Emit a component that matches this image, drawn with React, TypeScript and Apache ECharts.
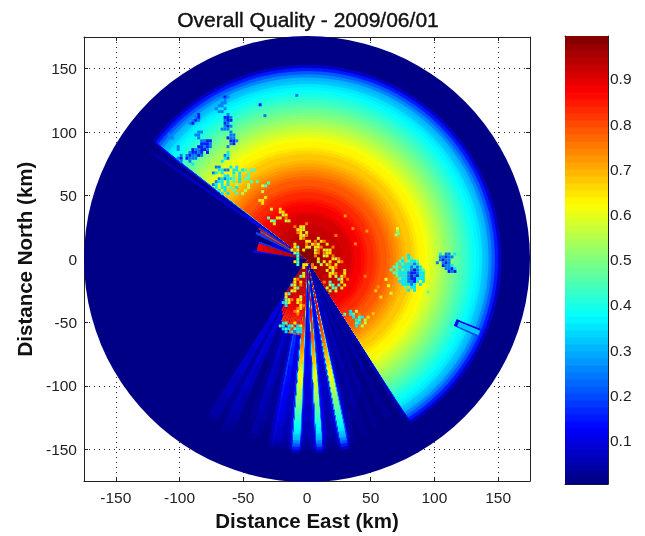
import React, { useEffect, useRef } from "react";
import * as echarts from "echarts";

const titleText = "Overall Quality - 2009/06/01";
const axisTicks = [-150, -100, -50, 0, 50, 100, 150];
const barTicks = [0.1, 0.2, 0.3, 0.4, 0.5, 0.6, 0.7, 0.8, 0.9];

// quality along a clear radial, one value per 2.5 km ring
const ringStep = 2.5;
const radialQuality = [
  0.995, 0.99, 0.98, 0.97, 0.955, 0.945, 0.94, 0.935, 0.93, 0.925, 0.92, 0.915, 0.91, 0.905, 0.895, 0.885,
  0.875, 0.865, 0.855, 0.84, 0.83, 0.815, 0.8, 0.79, 0.78, 0.765, 0.75, 0.735, 0.72, 0.705, 0.695, 0.68,
  0.67, 0.655, 0.645, 0.635, 0.625, 0.61, 0.595, 0.58, 0.565, 0.555, 0.54, 0.525, 0.51, 0.495, 0.48, 0.465,
  0.45, 0.435, 0.42, 0.405, 0.39, 0.37, 0.35, 0.325, 0.3, 0.26, 0.21, 0.15, 0.07,
];

// azimuth start (deg clockwise from north), far gain, near-field limit (km), near-field gain
const beamTable = [
  [147.5, 0.4, 0, 0], [148, 0.12, 0, 0], [149, 0.03, 0, 0], [152, 0.06, 0, 0], [154, 0.03, 0, 0],
  [157, 0.07, 0, 0], [158.5, 0.04, 0, 0], [161, 0.08, 0, 0], [163, 0.05, 0, 0], [165, 0.1, 0, 0],
  [166, 0.16, 0, 0], [166.8, 0.3, 0, 0], [167.2, 0.6, 0, 0], [167.6, 1, 0, 0], [169.8, 0.6, 0, 0],
  [170.2, 0.3, 0, 0], [170.8, 0.15, 0, 0], [172, 0.12, 0, 0], [173.5, 0.2, 0, 0], [174.4, 0.3, 0, 0],
  [175, 0.55, 0, 0], [175.3, 1, 0, 0], [177.2, 0.6, 0, 0], [177.6, 0.3, 0, 0], [178.2, 0.2, 0, 0],
  [179, 0.16, 0, 0], [180.8, 0.2, 0, 0], [181.4, 0.3, 0, 0], [181.9, 0.6, 60, 0.6], [182.2, 1, 60, 1],
  [184.6, 0.6, 60, 1], [185, 0.3, 60, 1], [185.6, 0.15, 60, 1], [187, 0.16, 61, 1],
  [188, 0.22, 61, 1], [190, 0.28, 61, 1], [191, 0.15, 60, 1], [192, 0.05, 60, 1], [194.5, 0.09, 59, 1],
  [196, 0.12, 57, 1], [198, 0.05, 55, 1], [200, 0.03, 53, 1], [203, 0.1, 49, 1], [205, 0.13, 45, 1],
  [207, 0.05, 42, 1], [209, 0.12, 38, 1], [211, 0.12, 33, 1], [212.5, 0, 0, 0], [277, 0, 43, 0.15],
  [279.5, 0, 41, 1], [288, 0, 42, 0.2], [290, 0, 30, 0.1], [296, 0, 45, 0.22], [298.5, 0, 44, 1],
  [300, 0, 44, 0.3], [301.5, 0, 45, 1], [303.2, 0.03, 45, 0.25], [304, 0.14, 45, 0.2], [305, 0.03, 60, 0.15],
  [306.4, 0.12, 0, 0], [307.2, 0.4, 0, 0], [307.7, 1, 0, 0],
];
const beamTableEnd = 507.5;

// polar patches: az start, az end, range start, range end, quality
const polarPatches = [
  [111.9, 114.4, 126.5, 129.5, 0.12],
  [111.9, 112.5, 127, 147, 0.1],
  [112.5, 114, 129, 147, 0.32],
  [114, 114.5, 129, 147, 0.2],
];

// clutter maps, read cell by cell: one character per 2.3 km, digit d is quality d/10 + 0.05
const cellKm = 2.3;
const hotOrigin = [-44, 60];
const hotRows = [
  "......4",
  "....54",
  "",
  "....5",
  "",
  ".....6",
  "...66",
  "....6",
  "",
  ".......5..6",
  "..........66",
  "...........56",
  "......4..65.7",
  ".......54...56",
  "........6..........7",
  "...............7.66",
  "................665",
  "................76.6",
  ".................657.........7",
  ".................67....6",
  "...................66.7.67",
  "...............6...7.675..6",
  "...............64..65.667...7",
  "..............676.6...57.656",
  "...............54.....67.766",
  "................4.....7..56.7",
  "................4......6....657",
  "...............64......5.6.6..67",
  "................4.66.7..5.67.6",
  "..................6..76....667",
  "...................45.....6.5...6",
  "..................57.......667..6",
  ".................46........6.5.67......7",
  "...............67.....6.......45.7",
  "..............56.6.......7.4...6",
  "..............46.7.........54.4.6",
  "...............64.........5.44.6",
  "..............56..........45.6",
  "............64",
  "...........46....5",
  "............457.66",
  "...........346..67",
  "............3....676",
  "................76",
  "...............76.................3.5",
  "................7...............4.34.7",
  "...................................3.43.6",
  "....................................34.5",
  "...........34..6....................43.5",
  "..........43.34.35..................3.5",
  "...........343.4332",
  "............3.3233",
];
const nwOrigin = [-108, 130];
const nwRows = [
  "...................2",
  "..................212",
  "...................2",
  "..................22",
  ".................22",
  "................2..2",
  ".................22",
  "..........1.........2",
  ".........21........112",
  "........212........211",
  ".......21..........12",
  "...................212",
  "..................222",
  "..........22.........2",
  "2........22..........22",
  ".2........2.........122",
  "...........2211......112",
  "...........1112......21",
  "...2......11212.....2",
  "...2....122112",
  ".......21121.1......3",
  "....2.212212.......23",
  "...21.1222.........32",
  "....2..2..........3",
  "........3",
  "................22...3.3",
  ".................3322.33.34.44",
  "...............23.3...3.3..4",
  "...................33.4.3..4",
  ".................232334.3.44",
  "................233.3.4.3...4.4",
  "...............23.3.3..5...5",
  "................3.33.4.3...5",
  ".................3.3..4...5",
  "..................3.3..4.5",
];
const eastOrigin = [66, 3];
const eastRows = [
  "......3",
  "....4.34",
  "...43.4334",
  "..43433323",
  ".44.3332323",
  "4.4343321234",
  ".44333211233",
  "..4333212133",
  "...433211333",
  "...3332213.3",
  "....33323.3",
  ".....4.33",
  "......3.3",
];
const farEastOrigin = [100, 4];
const farEastRows = [
  "..3.22.3",
  "..22122",
  "..2122",
  ".2.212",
  "...1223",
  "....2213",
  ".....121",
];

// isolated cells: east km, north km, quality
const scatterCells = [
  [71, 22, 0.5], [72, 20, 0.48], [70, 19, 0.56], [71, 24, 0.62], [62, -16, 0.58], [64, -21, 0.62], [66, -27, 0.58],
  [58, -30, 0.64], [30, 34, 0.72], [38, 12, 0.74], [47, 22, 0.72], [36, 24, 0.74], [54, -25, 0.68], [56, -22, 0.72],
  [52, -43, 0.68], [95, -26, 0.46], [-8, 129, 0.24], [-36.8, 121.6, 0.14], [-33, 113, 0.25],
];

const azOf = (x: number, y: number) => ((Math.atan2(x, y) * 180) / Math.PI + 360) % 360;
const cellVisible = (x: number, y: number) => {
  const az = azOf(x, y);
  const r = Math.hypot(x, y);
  if (az >= 307.7 || az <= 147.5) return true;
  if (az >= 183 && az <= 212) return r < 62;
  if (az > 147.5 && az < 183) return r < 7;
  if (az >= 279.5 && az <= 288) return r < 22;
  return r < 14;
};
const mapCells = (origin: number[], rows: string[]) => {
  const out: number[][] = [];
  rows.forEach((row, i) => {
    for (let j = 0; j < row.length; j++) {
      if (row[j] === ".") continue;
      const x = origin[0] + j * cellKm;
      const y = origin[1] - i * cellKm;
      if (cellVisible(x, y)) out.push([x, y, Number(row[j]) / 10 + 0.05]);
    }
  });
  return out;
};

const jet = (i: number) => {
  const v = (i + 0.5) / 64;
  const ch = (c: number) =>
    Math.round(255 * Math.max(0, Math.min(1, Math.min(4 * v - c + 0.5, -4 * v + c + 2.5))));
  return `rgb(${ch(2)},${ch(1)},${ch(0)})`;
};
const levelOf = (q: number) => Math.max(0, Math.min(63, Math.floor(((q - 0.004) / 0.991) * 64)));

const buildRings = () => {
  const rows: number[][] = [];
  beamTable.forEach((row, i) => {
    const next = i + 1 < beamTable.length ? beamTable[i + 1][0] : beamTableEnd;
    let last = 0;
    for (let k = radialQuality.length - 1; k >= 0; k--) {
      const r = (k + 1) * ringStep;
      const gain = r <= row[2] ? row[3] : row[1];
      const level = levelOf(radialQuality[k] * gain);
      if (level !== last) {
        rows.push([row[0], next, 0, r, level]);
        last = level;
      }
    }
  });
  return rows;
};

const sectorItem = (_p: any, api: any) => {
  const c = api.coord([0, 0]);
  const toPx = (km: number) => api.coord([km, 0])[0] - c[0];
  const a0 = ((api.value(0) - 90) * Math.PI) / 180;
  const a1 = ((api.value(1) - 90) * Math.PI) / 180;
  const col = jet(api.value(4));
  return {
    type: "sector",
    shape: { cx: c[0], cy: c[1], r0: toPx(api.value(2)), r: toPx(api.value(3)), startAngle: a0, endAngle: a1, clockwise: true },
    style: { fill: col },
  };
};
const cellItem = (_p: any, api: any) => {
  const p = api.coord([api.value(0), api.value(1)]);
  const s = api.size([cellKm, cellKm]);
  return {
    type: "rect",
    shape: { x: p[0] - s[0] / 2, y: p[1] - s[1] / 2, width: s[0], height: s[1] },
    style: { fill: jet(api.value(2)) },
  };
};
const discItem = (_p: any, api: any) => {
  const c = api.coord([0, 0]);
  const r = api.coord([api.value(0), 0])[0] - c[0];
  return { type: "circle", shape: { cx: c[0], cy: c[1], r }, style: { fill: jet(api.value(1)) } };
};
const barItem = (_p: any, api: any) => {
  const a = api.coord([0, api.value(0)]);
  const b = api.coord([1, api.value(1)]);
  return {
    type: "rect",
    shape: { x: a[0], y: b[1], width: b[0] - a[0], height: a[1] - b[1] + 0.6 },
    style: { fill: jet(api.value(2)) },
  };
};

const font = "Liberation Sans";
const frame = { show: true, onZero: false, lineStyle: { color: "#222", width: 1 } };
const ticksIn = (customValues: number[]) => ({
  show: true, inside: true, length: 4, customValues, lineStyle: { color: "#222", width: 1 },
});

export default function App() {
  const ref = useRef<HTMLDivElement>(null);
  useEffect(() => {
    const chart = echarts.init(ref.current!, undefined, { renderer: "svg" });
    const mainAxis = { min: -175, max: 175 };
    const grid = { show: true, lineStyle: { color: "#222", type: [1, 4] as any, width: 1 } };
    const barLevels = Array.from({ length: 64 }, (_, i) => [
      0.004 + (i * 0.991) / 64, 0.004 + ((i + 1) * 0.991) / 64, i,
    ]);
    const cells = [
      ...mapCells(hotOrigin, hotRows),
      ...mapCells(nwOrigin, nwRows),
      ...mapCells(eastOrigin, eastRows),
      ...mapCells(farEastOrigin, farEastRows),
      ...scatterCells,
    ];
    chart.setOption({
      animation: false,
      backgroundColor: "#fff",
      textStyle: { fontFamily: font },
      title: {
        text: titleText, left: 303, top: 4, textAlign: "center",
        textStyle: {
          fontFamily: font, fontSize: 21, fontWeight: "normal", color: "#111",
          textBorderColor: "#111", textBorderWidth: 0.4,
        },
      },
      grid: [
        { left: 84, top: 37, width: 446, height: 446, containLabel: false },
        { left: 565, top: 36, width: 43, height: 448, containLabel: false },
      ],
      xAxis: [
        {
          type: "value", gridIndex: 0, ...mainAxis, position: "bottom", name: "Distance East (km)",
          nameLocation: "middle", nameGap: 27,
          nameTextStyle: { fontFamily: font, fontSize: 20.5, fontWeight: "bold", color: "#111" },
          axisLine: frame, axisTick: ticksIn(axisTicks),
          axisLabel: { customValues: axisTicks, fontFamily: font, fontSize: 15.5, color: "#222", margin: 8 },
          splitLine: grid,
        },
        {
          type: "value", gridIndex: 0, ...mainAxis, position: "top", axisLine: frame,
          axisTick: ticksIn(axisTicks), axisLabel: { show: false }, splitLine: { show: false },
        },
        {
          type: "value", gridIndex: 1, min: 0, max: 1, position: "bottom", axisLine: frame,
          axisTick: { show: false }, axisLabel: { show: false }, splitLine: { show: false },
        },
        {
          type: "value", gridIndex: 1, min: 0, max: 1, position: "top", axisLine: frame,
          axisTick: { show: false }, axisLabel: { show: false }, splitLine: { show: false },
        },
      ],
      yAxis: [
        {
          type: "value", gridIndex: 0, ...mainAxis, position: "left", name: "Distance North (km)",
          nameLocation: "middle", nameGap: 49,
          nameTextStyle: { fontFamily: font, fontSize: 20.5, fontWeight: "bold", color: "#111" },
          axisLine: frame, axisTick: ticksIn(axisTicks),
          axisLabel: { customValues: axisTicks, fontFamily: font, fontSize: 15.5, color: "#222", margin: 7 },
          splitLine: grid,
        },
        {
          type: "value", gridIndex: 0, ...mainAxis, position: "right", axisLine: frame,
          axisTick: ticksIn(axisTicks), axisLabel: { show: false }, splitLine: { show: false },
        },
        {
          type: "value", gridIndex: 1, min: 0.004, max: 0.995, position: "right", axisLine: frame,
          axisTick: ticksIn(barTicks),
          axisLabel: {
            customValues: barTicks, fontFamily: font, fontSize: 15.5, color: "#222", margin: 2,
            formatter: (v: number) => v.toFixed(1),
          },
          splitLine: { show: false },
        },
        {
          type: "value", gridIndex: 1, min: 0.004, max: 0.995, position: "left", axisLine: frame,
          axisTick: ticksIn(barTicks), axisLabel: { show: false }, splitLine: { show: false },
        },
      ],
      series: [
        { type: "custom", xAxisIndex: 0, yAxisIndex: 0, renderItem: discItem, data: [[175, 0]], z: 2, silent: true },
        { type: "custom", xAxisIndex: 0, yAxisIndex: 0, renderItem: sectorItem, data: buildRings(), z: 3, silent: true },
        { type: "custom", xAxisIndex: 0, yAxisIndex: 0, renderItem: sectorItem, z: 4, silent: true,
          data: polarPatches.map((p) => [p[0], p[1], p[2], p[3], levelOf(p[4])]) },
        { type: "custom", xAxisIndex: 0, yAxisIndex: 0, renderItem: cellItem, z: 6, silent: true,
          data: cells.map((c) => [c[0], c[1], levelOf(c[2])]) },
        { type: "custom", xAxisIndex: 2, yAxisIndex: 2, renderItem: barItem, data: barLevels, z: 3, silent: true },
      ],
    });
    return () => chart.dispose();
  }, []);
  return <div ref={ref} style={{ position: "absolute", left: 0, top: 0, width: 645, height: 536, filter: "blur(0.45px)" }} />;
}
